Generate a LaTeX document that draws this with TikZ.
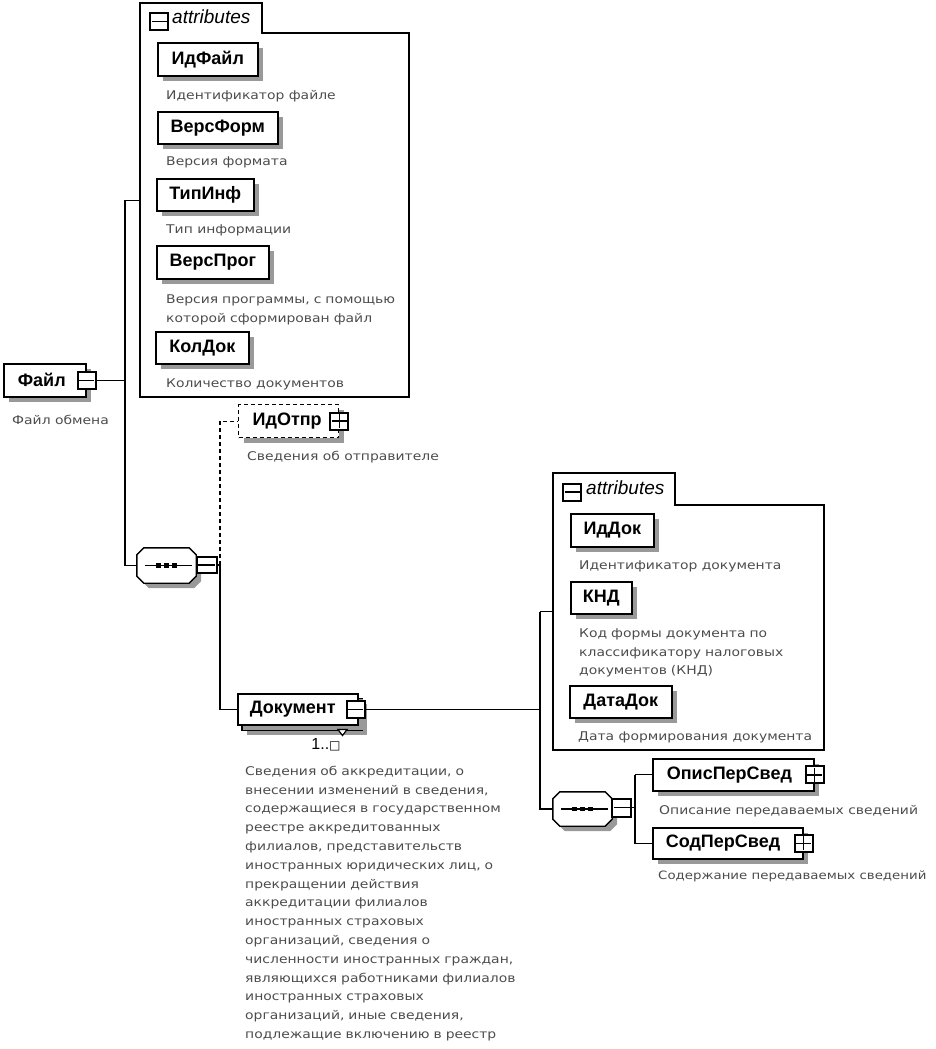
\documentclass[tikz,border=0pt]{standalone}
\usepackage{fontspec}
\setmainfont{Liberation Sans}
\newfontfamily\descfont[FakeStretch=1.16]{DejaVu Sans}
\newfontfamily\symfont{DejaVu Sans}
\usetikzlibrary{calc,shadows}
\newcommand\octpath[2]{($(#1.north west)+(7+#2,#2)$) -- ($(#1.north east)+(-7+#2,#2)$) --
  ($(#1.north east)+(#2,7+#2)$) -- ($(#1.south east)+(#2,-7+#2)$) --
  ($(#1.south east)+(-7+#2,#2)$) -- ($(#1.south west)+(7+#2,#2)$) --
  ($(#1.south west)+(#2,-7+#2)$) -- ($(#1.north west)+(#2,7+#2)$) -- cycle}
\newcommand\seqdraw[1]{%
  \fill[black!40] \octpath{#1}{5};
  \draw[line width=1.4pt,fill=white] \octpath{#1}{0};
  \draw[line width=1.3pt] ($(#1.west)+(8,0)$) -- ($(#1.east)+(-4,0)$);
  \foreach \dx in {-8,0,8}{\fill ($(#1.center)+(\dx-2.6,-2.4)$) rectangle ($(#1.center)+(\dx+2.6,2.4)$);}}
\begin{document}
\begin{tikzpicture}[x=1pt,y=-1pt,
  conn/.style={line width=1.3pt},
  frame/.style={line width=1.6pt},
  shade/.style={drop shadow={shadow xshift=5pt,shadow yshift=-5pt,fill=black!40,opacity=1}},
  elem/.style={draw,line width=1.6pt,fill=white,anchor=north west,inner sep=0pt,
    font=\fontsize{18}{20}\selectfont\bfseries,shade},
  optelem/.style={elem,dash pattern=on 4pt off 3pt,line width=1.3pt},
  expel/.style={elem,align=left},
  desc/.style={anchor=mid west,inner sep=0pt,text=black!70,
    font=\descfont\fontsize{12}{18.8}\selectfont},
  mdesc/.style={desc,anchor=base west,align=left,text width=#1},
  tabtext/.style={anchor=mid west,inner sep=0pt,font=\fontsize{19}{21}\selectfont\itshape},
  pm/.style={draw,line width=2pt,fill=white,minimum width=18pt,minimum height=17pt,inner sep=0pt},
  minus/.style={pm,path picture={\draw[line width=1.4pt]
      ([xshift=1.5pt]path picture bounding box.west)--([xshift=-1.5pt]path picture bounding box.east);}},
  plus/.style={pm,path picture={\draw[line width=1.4pt]
      ([xshift=1.5pt]path picture bounding box.west)--([xshift=-1.5pt]path picture bounding box.east)
      ([yshift=-1.5pt]path picture bounding box.north)--([yshift=1.5pt]path picture bounding box.south);}},
  seqbox/.style={inner sep=0pt,minimum width=59pt,minimum height=35pt},
]
\useasboundingbox (0,0) rectangle (936,1049);

% ---------- attributes container 1
\node[anchor=north west,inner sep=0pt,minimum width=269pt,minimum height=394pt] (a1) at (140,3) {};
\draw[frame] (140,397) -- (140,3) -- (262,3) -- (262,33) -- (409,33) -- (409,397) -- cycle;
\node[minus] (a1m) at (159,21.5) {};
\node[tabtext] (a1t) at (172,21) {attributes};

\node[elem,minimum width=100pt,minimum height=33pt] (idfajl) at (157,42) {ИдФайл};
\node[desc] (didfajl) at (166,97) {Идентификатор файле};
\node[elem,minimum width=120pt,minimum height=32pt] (versform) at (157,111) {ВерсФорм};
\node[desc] (dversform) at (166,163) {Версия формата};
\node[elem,minimum width=97pt,minimum height=32pt] (tipinf) at (156,178) {ТипИнф};
\node[desc] (dtipinf) at (166,231) {Тип информации};
\node[elem,minimum width=112pt,minimum height=33pt] (versprog) at (156,245) {ВерсПрог};
\node[mdesc=240pt] (dversprog) at (166,303.3) {Версия программы, с помощью\\которой сформирован файл};
\node[elem,minimum width=93pt,minimum height=32pt] (koldok) at (155,331) {КолДок};
\node[desc] (dkoldok) at (166,385) {Количество документов};

% ---------- root
\node[expel,minimum width=82pt,minimum height=33pt,text width=54pt,inner xsep=14pt] (fajl) at (3,363) {Файл};
\node[minus] (fm) at (fajl.east) {};
\node[desc] (dfajl) at (12,422) {Файл обмена};

% ---------- sequence 1
\node[seqbox] (seq1) at (166.5,565.5) {};
\seqdraw{seq1}
\node[minus,minimum width=20pt,minimum height=16pt] (s1m) at (206.5,565) {};

% ---------- ИдОтпр
\node[optelem,minimum width=100pt,minimum height=33pt,text width=72pt,inner xsep=14pt,align=left] (idotpr) at (238,404) {ИдОтпр};
\node[plus] (iop) at (idotpr.east) {};
\node[desc] (didotpr) at (247,458) {Сведения об отправителе};

% ---------- Документ (multiple)
\node[elem,minimum width=120pt,minimum height=31pt] (docback) at (241,698) {};
\node[expel,minimum width=120pt,minimum height=31pt,text width=96pt,inner xsep=12pt,drop shadow={opacity=0}] (doc) at (237,693) {Документ};
\node[minus] (dm) at ([xshift=-3pt]doc.east) {};
\draw[line width=1.2pt,fill=white] (338,729.5) -- (347,729.5) -- (342.5,735.5) -- cycle;
\node[inner sep=0pt,font=\fontsize{16}{17}\selectfont] (mult) at (326,745) {1..{\symfont\fontsize{12}{12}\selectfont □}};
\node[mdesc=300pt] (ddoc) at (245,775.3) {Сведения об аккредитации, о\\
внесении изменений в сведения,\\
содержащиеся в государственном\\
реестре аккредитованных\\
филиалов, представительств\\
иностранных юридических лиц, о\\
прекращении действия\\
аккредитации филиалов\\
иностранных страховых\\
организаций, сведения о\\
численности иностранных граждан,\\
являющихся работниками филиалов\\
иностранных страховых\\
организаций, иные сведения,\\
подлежащие включению в реестр};

% ---------- attributes container 2
\node[anchor=north west,inner sep=0pt,minimum width=271pt,minimum height=277pt] (a2) at (553,473) {};
\draw[frame] (553,750) -- (553,473) -- (675,473) -- (675,505) -- (824,505) -- (824,750) -- cycle;
\node[minus] (a2m) at (572,492) {};
\node[tabtext] (a2t) at (586,492) {attributes};

\node[elem,minimum width=83pt,minimum height=33pt] (iddok) at (570,513) {ИдДок};
\node[desc] (diddok) at (579,567) {Идентификатор документа};
\node[elem,minimum width=61pt,minimum height=32pt] (knd) at (570,581) {КНД};
\node[mdesc=240pt] (dknd) at (579,637.3) {Код формы документа по\\классификатору налоговых\\документов (КНД)};
\node[elem,minimum width=102pt,minimum height=32pt] (datadok) at (569,685) {ДатаДок};
\node[desc] (ddatadok) at (578,738) {Дата формирования документа};

% ---------- sequence 2
\node[seqbox,minimum width=59pt,minimum height=34pt] (seq2) at (582.5,809) {};
\seqdraw{seq2}
\node[minus,minimum width=19pt,minimum height=18pt] (s2m) at (621.5,807.5) {};

\node[expel,minimum width=161pt,minimum height=32pt,text width=133pt,inner xsep=14pt] (opis) at (652,758) {ОписПерСвед};
\node[plus] (opp) at (opis.east) {};
\node[desc] (dopis) at (659,812) {Описание передаваемых сведений};
\node[expel,minimum width=150pt,minimum height=31pt,text width=124pt,inner xsep=13pt] (sod) at (652,827) {СодПерСвед};
\node[plus] (sop) at (sod.east) {};
\node[desc,font=\descfont\fontsize{11.5}{18.8}\selectfont] (dsod) at (658,877) {Содержание передаваемых сведений};

% ---------- connectors
\coordinate (b1) at (125,0);
\coordinate (b2) at (220,0);
\coordinate (b3) at (540,0);
\coordinate (b4) at (635,0);
\draw[conn] (fm.east) -- (fm.east -| b1);
\draw[conn] (a1.west -| b1) -- (a1.west);
\draw[conn] (a1.west -| b1) -- (seq1.west -| b1) -- (seq1.west);
\draw[conn] (s1m.east) -- (s1m.east -| b2) -- (doc.west -| b2) -- (doc.west);
\draw[conn,dash pattern=on 4pt off 3pt] (s1m.east -| b2) -- (idotpr.west -| b2) -- (idotpr.west);
\draw[conn] (dm.east) -- (dm.east -| b3);
\draw[conn] (a2.west -| b3) -- (a2.west);
\draw[conn] (a2.west -| b3) -- (seq2.west -| b3) -- (seq2.west);
\draw[conn] (s2m.east) -- (s2m.east -| b4);
\draw[conn] (opis.west -| b4) -- (opis.west);
\draw[conn] (opis.west -| b4) -- (sod.west -| b4) -- (sod.west);
\end{tikzpicture}
\end{document}
